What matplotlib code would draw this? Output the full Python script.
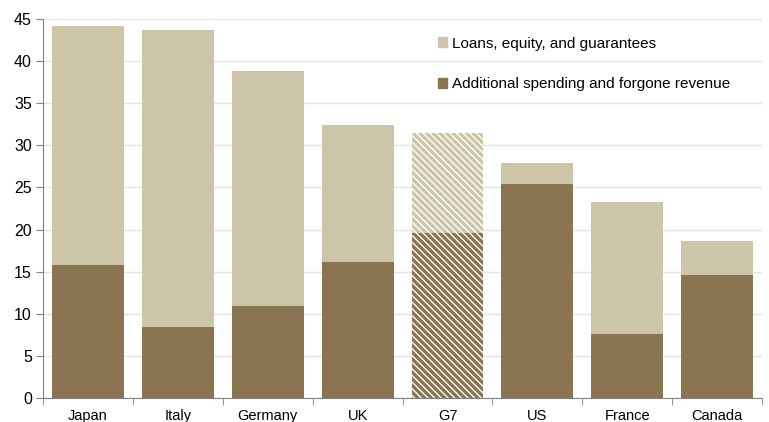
import matplotlib.pyplot as plt
import numpy as np

plt.rcParams['font.family'] = ['Liberation Sans', 'DejaVu Sans']
plt.rcParams['hatch.linewidth'] = 2.4

countries = ['Japan', 'Italy', 'Germany', 'UK', 'G7', 'US', 'France', 'Canada']
# % of GDP
spending = [15.8, 8.4, 10.9, 16.2, 19.6, 25.4, 7.6, 14.6]
total = [44.2, 43.7, 38.8, 32.4, 31.5, 27.9, 23.3, 18.6]
loans = [t - s for t, s in zip(total, spending)]

light = '#CDC5A7'
dark = '#8B7451'

fig = plt.figure(figsize=(7.69, 4.22), dpi=100)
ax = fig.add_axes([0.056, 0.057, 0.935, 0.898])

x = np.arange(len(countries))
g7 = countries.index('G7')
width = 0.8

for i in x:
    if i == g7:
        ax.bar(i, spending[i], width, color='white', edgecolor=dark, hatch='\\\\\\\\\\', linewidth=0, zorder=2)
        ax.bar(i, loans[i], width, bottom=spending[i], color='white', edgecolor=light,
               hatch='\\\\\\\\\\', linewidth=0, zorder=2)
    else:
        ax.bar(i, spending[i], width, color=dark, linewidth=0, zorder=2)
        ax.bar(i, loans[i], width, bottom=spending[i], color=light, linewidth=0, zorder=2)

# legend proxies
h1 = plt.Rectangle((0, 0), 1, 1, color=light)
h2 = plt.Rectangle((0, 0), 1, 1, color=dark)
ax.legend([h1, h2], ['Loans, equity, and guarantees', 'Additional spending and forgone revenue'],
          loc='upper left', bbox_to_anchor=(0.53, 0.99), frameon=False, fontsize=11,
          handlelength=0.6, handleheight=0.6, handletextpad=0.3, labelspacing=1.75)

ax.set_xlim(-0.5, len(countries) - 0.5)
ax.set_ylim(0, 45)
ax.set_yticks(np.arange(0, 46, 5))
ax.set_xticks(x)
ax.set_xticklabels(countries)
ax.set_xticks(np.arange(-0.5, len(countries)), minor=True)
ax.tick_params(axis='x', which='major', length=0, pad=8, labelsize=10.5)
ax.tick_params(axis='x', which='minor', length=5, direction='out', color='#808080')
ax.tick_params(axis='y', length=5, direction='out', color='#808080', labelsize=11.5, pad=3)

ax.grid(axis='y', color='#E4E4E4', linewidth=1, zorder=0)
ax.set_axisbelow(True)
for s in ['top', 'right']:
    ax.spines[s].set_visible(False)
for s in ['left', 'bottom']:
    ax.spines[s].set_color('#808080')

fig.savefig('out.png', dpi=100, facecolor='white')
